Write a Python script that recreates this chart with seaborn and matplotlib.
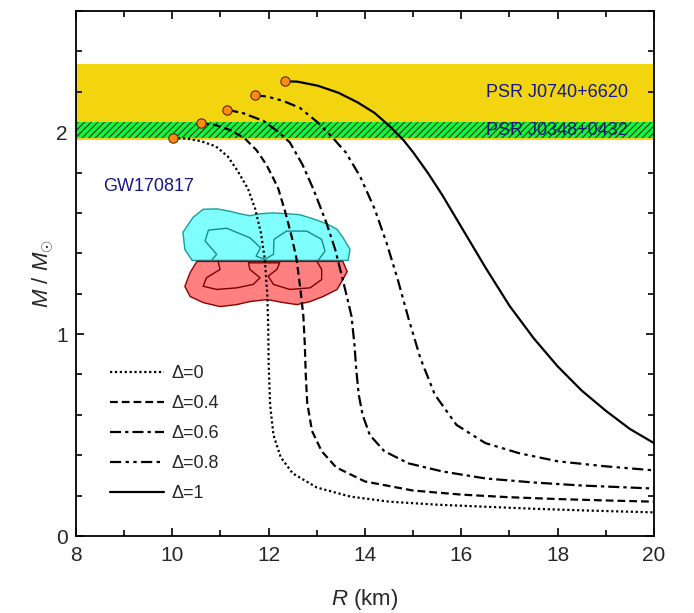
import numpy as np
import pandas as pd
import matplotlib
matplotlib.use("Agg")
import matplotlib.pyplot as plt
import seaborn as sns
from matplotlib.ticker import MultipleLocator

sns.set_theme(style="ticks")
plt.rcParams["font.family"] = ["Liberation Sans", "DejaVu Sans"]
plt.rcParams["mathtext.fontset"] = "custom"
plt.rcParams["mathtext.rm"] = "Liberation Sans"
plt.rcParams["mathtext.it"] = "Liberation Sans:italic"

# ---- mass-radius curves for each anisotropy parameter ----
r_d0 = [10.02, 10.3, 10.6, 10.9, 11.15, 11.35, 11.57, 11.72, 11.84, 11.92, 11.97, 11.99,
        12.0, 12.03, 12.1, 12.25, 12.5, 13.0, 13.7, 14.5, 15.5, 16.5, 17.5, 18.5, 20.0]
m_d0 = [1.97, 1.968, 1.955, 1.93, 1.88, 1.81, 1.72, 1.62, 1.50, 1.37, 1.20, 1.05,
        0.85, 0.65, 0.50, 0.39, 0.31, 0.24, 0.195, 0.17, 0.155, 0.145, 0.135, 0.127, 0.117]

r_d04 = [10.60, 10.9, 11.2, 11.5, 11.75, 11.95, 12.1, 12.2, 12.35, 12.48, 12.58, 12.66, 12.72,
         12.75, 12.77, 12.8, 12.9, 13.1, 13.4, 14.0, 15.0, 16.0, 17.0, 18.0, 19.0, 20.0]
m_d04 = [2.045, 2.035, 2.01, 1.97, 1.91, 1.84, 1.77, 1.72, 1.60, 1.48, 1.37, 1.22, 1.09,
         0.95, 0.80, 0.66, 0.52, 0.42, 0.34, 0.27, 0.225, 0.205, 0.192, 0.183, 0.176, 0.17]

r_d06 = [11.14, 11.47, 11.89, 12.17, 12.44, 12.7, 12.93, 13.2, 13.38, 13.52, 13.63, 13.72,
         13.78, 13.82, 13.87, 13.95, 14.1, 14.4, 14.9, 15.6, 16.5, 17.5, 18.5, 20.0]
m_d06 = [2.111, 2.094, 2.056, 2.007, 1.949, 1.84, 1.717, 1.55, 1.42, 1.287, 1.18, 1.088,
         0.95, 0.82, 0.70, 0.60, 0.50, 0.42, 0.36, 0.32, 0.285, 0.265, 0.25, 0.235]

r_d08 = [11.71, 11.96, 12.30, 12.65, 13.02, 13.30, 13.60, 13.90, 14.2, 14.45, 14.68, 14.9,
         15.15, 15.45, 15.9, 16.5, 17.2, 18.0, 19.0, 20.0]
m_d08 = [2.182, 2.177, 2.155, 2.12, 2.048, 1.98, 1.90, 1.78, 1.62, 1.45, 1.27, 1.08,
         0.88, 0.70, 0.55, 0.46, 0.41, 0.37, 0.345, 0.325]

r_d1 = [12.34, 12.6, 13.02, 13.45, 13.85, 14.2, 14.51, 14.8, 15.0, 15.3, 15.6, 16.0, 16.5,
        17.0, 17.5, 18.0, 18.5, 19.0, 19.5, 20.0]
m_d1 = [2.252, 2.25, 2.23, 2.195, 2.147, 2.095, 2.03, 1.96, 1.90, 1.80, 1.69, 1.53, 1.33,
        1.14, 0.98, 0.84, 0.72, 0.62, 0.53, 0.46]

labels = ["Δ=0", "Δ=0.4", "Δ=0.6", "Δ=0.8", "Δ=1"]

# ---- pulsar mass constraints (M_sun) ----
psr_j0740 = (1.96, 2.34)
psr_j0348 = (1.97, 2.05)

# ---- GW170817 credible regions (R in km, M in M_sun) ----
gw_upper_outer_r = [10.22, 10.43, 10.64, 10.93, 11.20, 11.40, 11.61, 11.82, 12.09, 12.38, 12.65,
                    12.92, 13.21, 13.42, 13.54, 13.69, 13.65, 10.41, 10.26]
gw_upper_outer_m = [1.504, 1.578, 1.618, 1.620, 1.608, 1.596, 1.586, 1.596, 1.600, 1.596, 1.591,
                    1.571, 1.546, 1.519, 1.479, 1.419, 1.365, 1.365, 1.419]
gw_upper_inner_r = [10.82, 10.92, 10.68, 10.75, 11.13, 11.61, 11.83, 11.74, 11.92, 12.10, 12.11,
                    12.37, 12.79, 13.10, 13.17, 13.03]
gw_upper_inner_m = [1.366, 1.395, 1.461, 1.515, 1.524, 1.477, 1.428, 1.386, 1.370, 1.395, 1.469,
                    1.510, 1.510, 1.469, 1.411, 1.366]
gw_lower_outer_r = [10.51, 10.37, 10.26, 10.37, 10.64, 10.99, 11.34, 11.61, 11.97, 12.30, 12.59,
                    12.86, 13.13, 13.42, 13.54, 13.63, 13.54]
gw_lower_outer_m = [1.360, 1.305, 1.236, 1.186, 1.156, 1.136, 1.146, 1.161, 1.171, 1.156, 1.146,
                    1.161, 1.186, 1.221, 1.270, 1.310, 1.360]
gw_lower_inner_r = [10.95, 10.99, 10.71, 10.64, 10.92, 11.34, 11.68, 11.82, 11.61, 11.58, 12.23,
                    12.17, 11.99, 12.10, 12.44, 12.86, 13.10, 13.10, 13.00]
gw_lower_inner_m = [1.361, 1.320, 1.279, 1.237, 1.221, 1.229, 1.246, 1.279, 1.320, 1.353, 1.353,
                    1.320, 1.287, 1.246, 1.221, 1.229, 1.270, 1.320, 1.361]

curves = [(r_d0, m_d0), (r_d04, m_d04), (r_d06, m_d06), (r_d08, m_d08), (r_d1, m_d1)]
styles = [(0, (1.0, 1.2)), (0, (3.5, 1.8)), (0, (5, 1.8, 1.5, 1.8)),
          (0, (5, 2, 1.5, 2, 1.5, 2)), "-"]

fig = plt.figure(figsize=(6.94, 6.13), dpi=100)
ax = fig.add_axes([76 / 694, 1 - 536 / 613, 578 / 694, 525 / 613])

# pulsar bands
ax.axhspan(*psr_j0740, color="#F2D40F", lw=0, zorder=0.5)
ax.axhspan(*psr_j0348, facecolor="#14F53C", edgecolor="none", lw=0, zorder=0.6)
ax.text(19.45, 2.195, "PSR J0740+6620", color="#16168A", fontsize=13,
        ha="right", va="center", zorder=0.7)
ax.text(19.45, 2.010, "PSR J0348+0432", color="#16168A", fontsize=13,
        ha="right", va="center", zorder=0.7)
plt.rcParams["hatch.linewidth"] = 0.8
ax.axhspan(*psr_j0348, facecolor="none", edgecolor="#1a3a1a", hatch="/////", lw=0, zorder=0.8)

# GW170817 regions
ax.fill(gw_upper_outer_r, gw_upper_outer_m, facecolor="#80FFFF", edgecolor="#1A9C9C",
        lw=1.0, zorder=1)
ax.plot(gw_upper_inner_r, gw_upper_inner_m, color="#1A8A8A", lw=1.0, zorder=1.1)
ax.fill(gw_lower_outer_r, gw_lower_outer_m, facecolor="#FF8080", edgecolor="#8B0000",
        lw=1.0, zorder=1)
ax.plot(gw_lower_inner_r, gw_lower_inner_m, color="#7A0000", lw=1.0, zorder=1.1)
ax.text(8.56, 1.73, "GW170817", color="#16168A", fontsize=13, ha="left", va="center")

# curves
for (r, m), ls, lab in zip(curves, styles, labels):
    df = pd.DataFrame({"R": r, "M": m})
    sns.lineplot(data=df, x="R", y="M", sort=False, estimator=None, ax=ax,
                 color="black", lw=1.6, linestyle=ls, label=lab, zorder=3)

# maximum-mass configurations
max_df = pd.DataFrame({"R": [c[0][0] for c in curves], "M": [c[1][0] for c in curves]})
sns.scatterplot(data=max_df, x="R", y="M", ax=ax, color="#FF8C10", edgecolor="#5a2a00",
                s=45, linewidth=0.8, zorder=4, legend=False)

ax.set_xlim(8, 20)
ax.set_ylim(0, 2.6)
ax.xaxis.set_major_locator(MultipleLocator(2))
ax.xaxis.set_minor_locator(MultipleLocator(1))
ax.yaxis.set_major_locator(MultipleLocator(1))
ax.yaxis.set_minor_locator(MultipleLocator(0.2))
ax.tick_params(which="both", direction="in", top=True, right=True, labelsize=15,
               color="black", width=1.2)
ax.tick_params(which="major", length=6)
ax.tick_params(which="minor", length=4)
ax.tick_params(axis="x", which="major", pad=7)
ax.tick_params(axis="y", which="major", pad=6)
for s in ax.spines.values():
    s.set_linewidth(1.3)
    s.set_color("black")

ax.set_xlabel(r"$\mathit{R}$ (km)", fontsize=16, labelpad=16)
ax.set_ylabel(r"$\mathit{M}\ /\ \mathit{M}_{\odot}$", fontsize=16, labelpad=0)

leg = ax.legend(loc="upper left", bbox_to_anchor=(0.059, 0.326), frameon=False,
                fontsize=13, handlelength=3.0, handletextpad=0.4, labelspacing=0.72,
                borderpad=0, borderaxespad=0)

fig.savefig("out.png", dpi=100)
